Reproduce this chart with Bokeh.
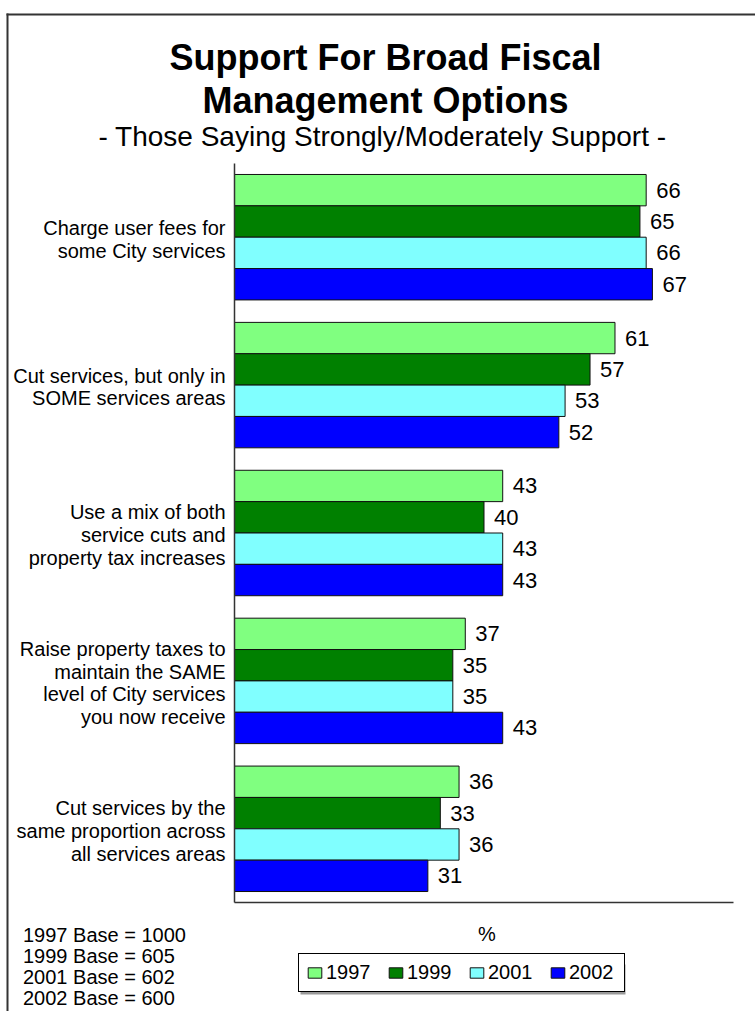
from bokeh.plotting import figure
from bokeh.models import (Range1d, Label, Legend, LegendItem, BoxAnnotation,
                          ColumnDataSource, LinearAxis)
from bokeh.core.properties import value
from bokeh.embed import file_html
from bokeh.resources import INLINE

# ---------------- data ----------------
categories = [
    "Charge user fees for\nsome City services",
    "Cut services, but only in\nSOME services areas",
    "Use a mix of both\nservice cuts and\nproperty tax increases",
    "Raise property taxes to\nmaintain the SAME\nlevel of City services\nyou now receive",
    "Cut services by the\nsame proportion across\nall services areas",
]
years = ["1997", "1999", "2001", "2002"]
v1997 = [66, 61, 43, 37, 36]
v1999 = [65, 57, 40, 35, 33]
v2001 = [66, 53, 43, 35, 36]
v2002 = [67, 52, 43, 43, 31]
series = [v1997, v1999, v2001, v2002]
colors = ["#80FF80", "#008000", "#80FFFF", "#0000FF"]

title_lines = ["Support For Broad Fiscal", "Management Options"]
subtitle = "- Those Saying Strongly/Moderately Support -"
base_notes = ["1997 Base = 1000", "1999 Base = 605", "2001 Base = 602", "2002 Base = 600"]
x_label = "%"

# ---------------- layout ----------------
W, H = 755, 1011
FL, FR, FT, FB = 234, 733, 163, 902     # plot area in page pixels
X_MAX = 80
END_PAD = 0.35      # in bar heights
GROUP_GAP = 0.716   # in bar heights
n_cat = len(categories)
n_ser = len(years)
Y_TOTAL = 2 * END_PAD + n_cat * n_ser + (n_cat - 1) * GROUP_GAP
PX_X = (FR - FL) / X_MAX
PX_Y = (FB - FT) / Y_TOTAL
FONT_NAME = "Liberation Sans"
FONT = value(FONT_NAME)


def xd(px):
    return (px - FL) / PX_X


def yd(py):
    return (py - FT) / PX_Y


def group_top(i):
    return END_PAD + i * (n_ser + GROUP_GAP)


p = figure(width=W, height=H,
           x_range=Range1d(xd(0), xd(W)), y_range=Range1d(yd(H), yd(0)),
           x_axis_type=None, y_axis_type=None,
           output_backend="svg", toolbar_location=None,
           min_border=0, min_border_left=0, min_border_right=0,
           min_border_top=0, min_border_bottom=0)
p.grid.visible = False
p.outline_line_color = None
p.background_fill_color = "white"
p.border_fill_color = "white"

xaxis = LinearAxis(fixed_location=Y_TOTAL, bounds=(0, X_MAX))
yaxis = LinearAxis(fixed_location=0, bounds=(0, Y_TOTAL))
for ax in (xaxis, yaxis):
    ax.major_tick_line_color = None
    ax.minor_tick_line_color = None
    ax.major_label_text_color = None
    ax.major_label_text_font_size = "1px"
    ax.axis_line_color = "#333333"
    ax.axis_line_width = 1.5
p.add_layout(xaxis, "below")
p.add_layout(yaxis, "left")

renderers = []
for j, (yr, vals, col) in enumerate(zip(years, series, colors)):
    ys = [group_top(i) + j + 0.5 for i in range(n_cat)]
    src = ColumnDataSource(dict(y=ys, right=vals, lab=[str(v) for v in vals]))
    r = p.hbar(y="y", right="right", left=0, height=1, source=src,
               fill_color=col, line_color="#111111", line_width=1)
    renderers.append(r)
    p.text(x="right", y="y", text="lab", source=src, x_offset=10,
           text_baseline="middle", text_align="left", text_font=FONT,
           text_font_size="22px", text_color="black")

# category labels (multi-line, right aligned)
LINE = 22.7 / PX_Y
for i, cat in enumerate(categories):
    lines = cat.split("\n")
    c = group_top(i) + n_ser / 2 + 2 / PX_Y
    for k, ln in enumerate(lines):
        yy = c + (k - (len(lines) - 1) / 2) * LINE
        p.add_layout(Label(x=xd(225), y=yy, text=ln, text_align="right",
                           text_baseline="middle", text_font=FONT_NAME,
                           text_font_size="20px", text_color="black"))

# titles
for ln, base in zip(title_lines, [57, 100]):
    p.add_layout(Label(x=xd(385), y=yd(base), text=ln, text_align="center",
                       text_baseline="alphabetic", text_font=FONT_NAME,
                       text_font_style="bold", text_font_size="36px",
                       text_color="black"))
p.add_layout(Label(x=xd(382), y=yd(136), text=subtitle, text_align="center",
                   text_baseline="alphabetic", text_font=FONT_NAME,
                   text_font_size="28px", text_color="black"))

# x axis label
p.add_layout(Label(x=xd(486.5), y=yd(933), text=x_label, text_align="center",
                   text_baseline="middle", text_font=FONT_NAME,
                   text_font_size="20px", text_color="black"))

# base notes
for k, note in enumerate(base_notes):
    p.add_layout(Label(x=xd(22.5), y=yd(934 + k * 21), text=note, text_align="left",
                       text_baseline="middle", text_font=FONT_NAME,
                       text_font_size="20px", text_color="black"))

# legend shadow
p.add_layout(BoxAnnotation(left=xd(300), right=xd(625), top=yd(964), bottom=yd(994),
                           fill_color="#9a9a9a", fill_alpha=1, line_alpha=0))
# legend
legend = Legend(items=[LegendItem(label=yr, renderers=[r]) for yr, r in zip(years, renderers)],
                location=(298, H - 992), orientation="horizontal",
                glyph_width=17, glyph_height=13, label_standoff=3, spacing=13,
                label_width=48, padding=7, margin=0,
                label_text_font=FONT_NAME, label_text_font_size="20px",
                label_text_color="black",
                label_height=18, border_line_color="black", border_line_width=1,
                border_line_alpha=1, background_fill_color="white", background_fill_alpha=1)
p.add_layout(legend)

# outer page frame: left and top edges only (right/bottom run off the page)
p.add_layout(BoxAnnotation(left=xd(6), right=xd(8), top=yd(13), bottom=None,
                           fill_color="#333333", fill_alpha=1, line_alpha=0))
p.add_layout(BoxAnnotation(left=xd(6), right=None, top=yd(13), bottom=yd(15),
                           fill_color="#333333", fill_alpha=1, line_alpha=0))

open("out.html", "w").write(file_html(p, INLINE))
